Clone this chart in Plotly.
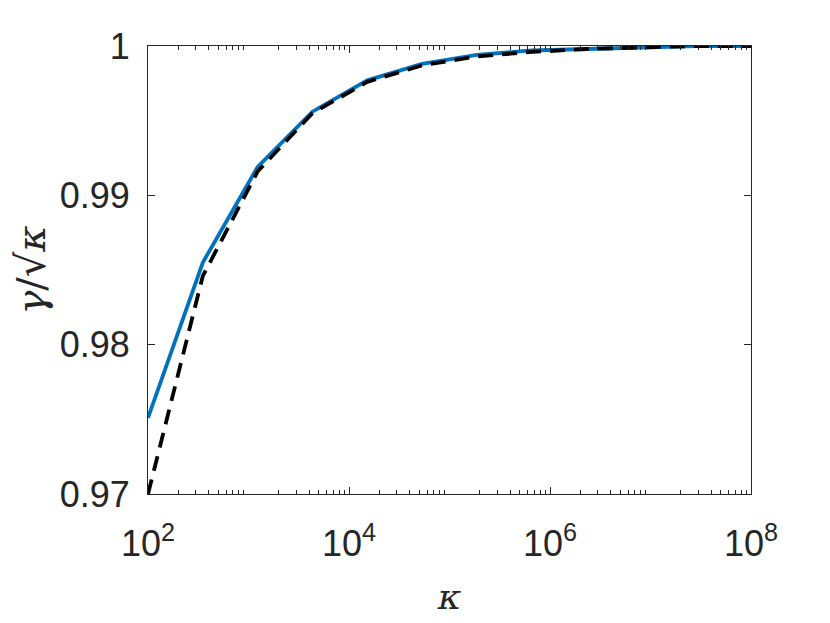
import plotly.graph_objects as go

kappa = [1.0e2, 3.511e2, 1.233e3, 4.329e3, 1.520e4, 5.337e4,
         1.874e5, 6.579e5, 2.310e6, 8.111e6, 2.848e7, 1.0e8]
gamma_num = [0.9751, 0.9855, 0.9919, 0.9956, 0.9977, 0.9988,
             0.9994, 0.9997, 0.9998, 0.9999, 1.0, 1.0]
gamma_approx = [0.9700, 0.9846, 0.9916, 0.9955, 0.9976, 0.9987,
                0.9993, 0.9996, 0.9998, 0.9999, 1.0, 1.0]

x_tickvals = [1e2, 1e4, 1e6, 1e8]
x_ticktext = ["10<sup>2</sup>", "10<sup>4</sup>", "10<sup>6</sup>", "10<sup>8</sup>"]
y_tickvals = [0.97, 0.98, 0.99, 1.0]
y_ticktext = ["0.97", "0.98", "0.99", "1"]

minor_vals = [m * 10 ** d for d in range(2, 8) for m in range(2, 10)]

fig = go.Figure()
fig.add_trace(go.Scatter(x=kappa, y=gamma_num, mode="lines",
                         line=dict(color="#0072BD", width=3.8)))
fig.add_trace(go.Scatter(x=kappa, y=gamma_approx, mode="lines",
                         line=dict(color="black", width=3.8, dash="15px,9px")))

axis_common = dict(showline=True, linecolor="#262626", linewidth=1,
                   mirror="ticks", ticks="inside", ticklen=7, tickwidth=1,
                   tickcolor="#262626", showgrid=False, zeroline=False,
                   tickfont=dict(family="Liberation Sans, Arial", size=36, color="#262626"))

fig.update_layout(
    width=830, height=623,
    margin=dict(l=140, r=87, t=38, b=137),
    paper_bgcolor="white", plot_bgcolor="white",
    showlegend=False,
    xaxis=dict(type="log", range=[2, 8], tickmode="array",
               tickvals=x_tickvals, ticktext=x_ticktext,
               ticklabelstandoff=18,
               minor=dict(tickmode="array", tickvals=minor_vals, ticks="inside",
                          ticklen=4, tickcolor="#262626", tickwidth=1),
               title=dict(text="<i>κ</i>", font=dict(family="DejaVu Serif, serif", size=36, color="#262626"),
                          standoff=20),
               **axis_common),
    yaxis=dict(range=[0.97, 1.0], tickmode="array",
               tickvals=y_tickvals, ticktext=y_ticktext,
               ticklabelstandoff=10,
               title=dict(text="<i>γ</i>/√<span style='text-decoration:overline'><i>κ</i></span>",
                          font=dict(family="DejaVu Serif, serif", size=40, color="#262626"),
                          standoff=10),
               **axis_common),
)

fig.write_html("out.html")
